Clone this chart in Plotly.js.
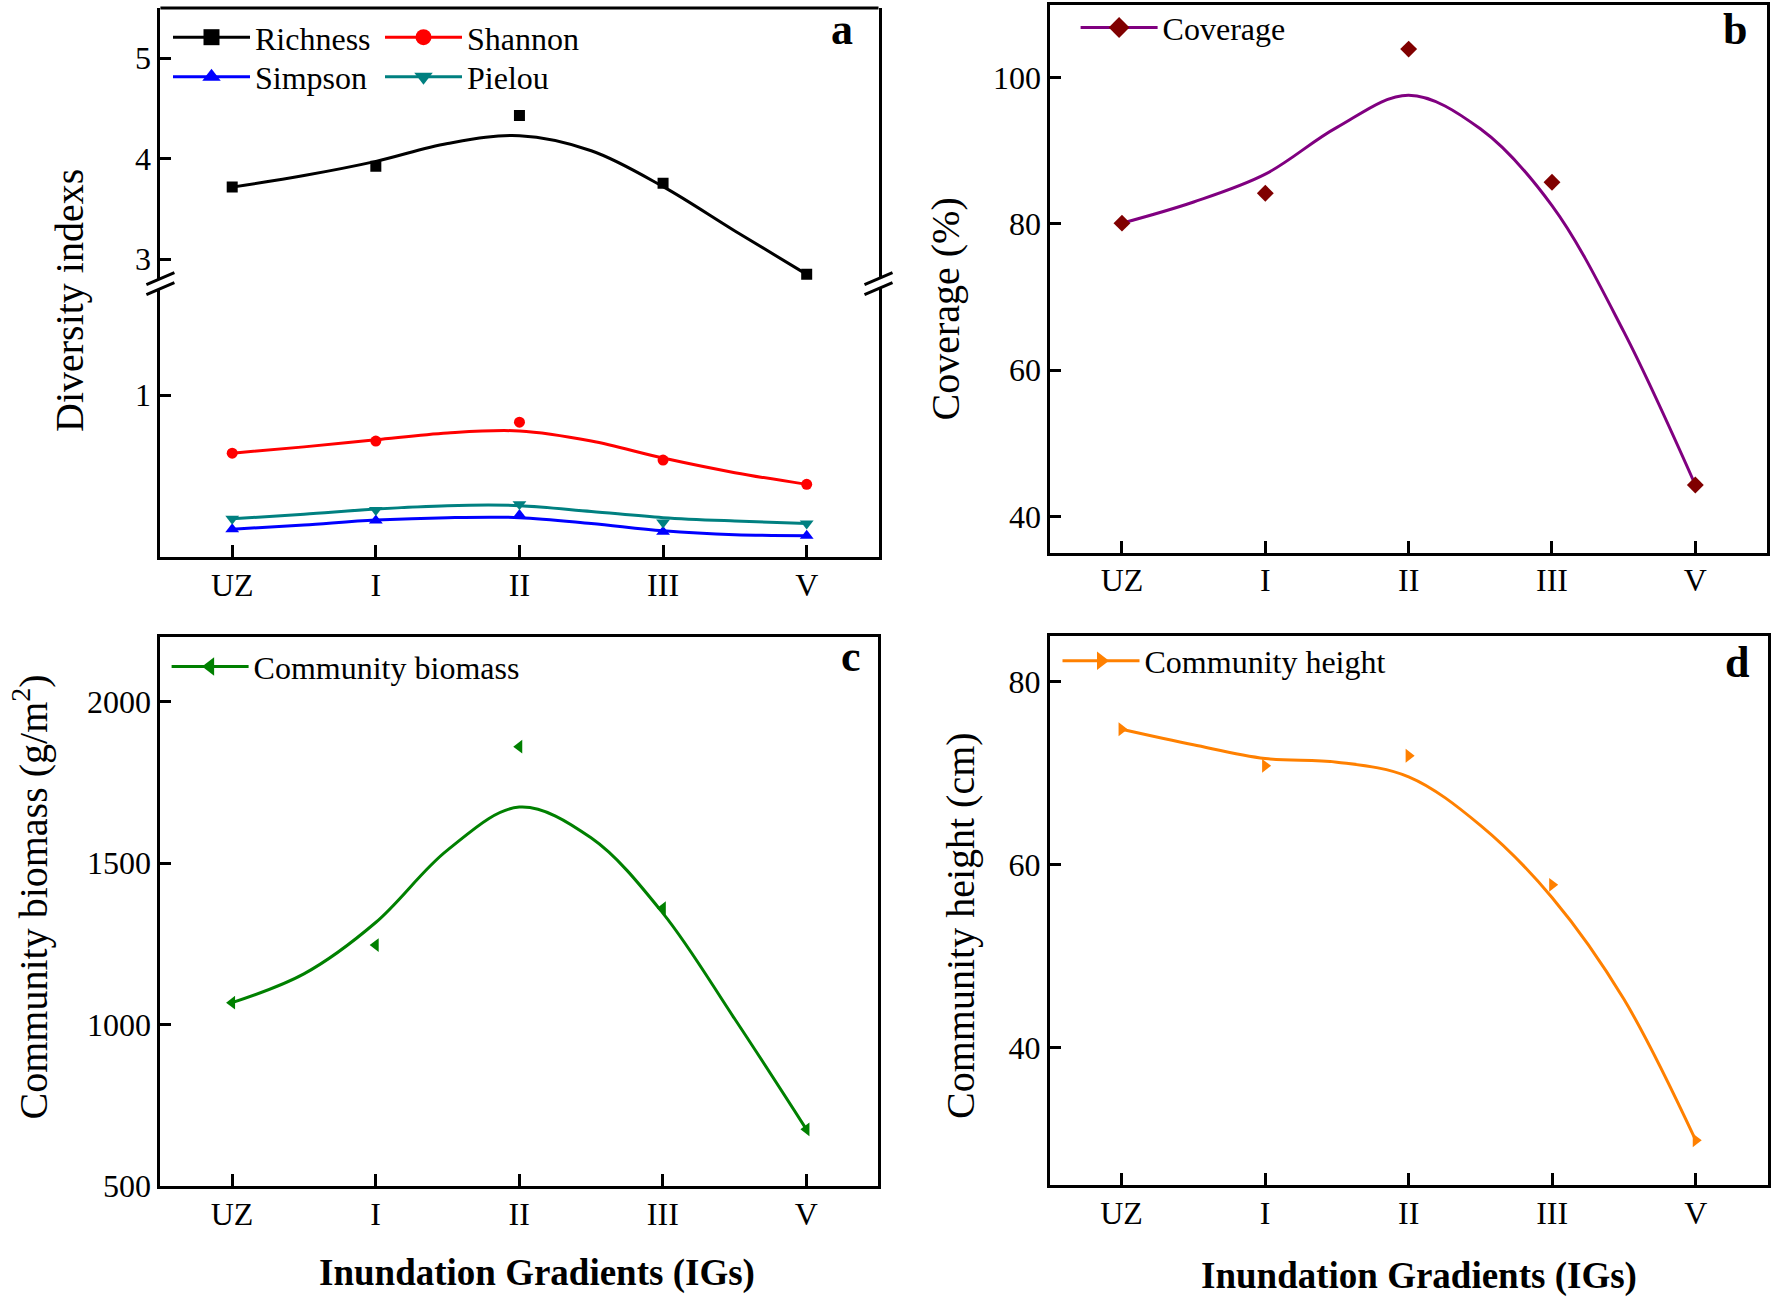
<!DOCTYPE html>
<html><head><meta charset="utf-8">
<script src="https://cdn.plot.ly/plotly-3.0.1.min.js"></script>
<style>html,body{margin:0;padding:0;background:#fff;} #chart{width:1772px;height:1299px;}</style>
</head><body><div id="chart"></div>
<script>
// ---------------- data ----------------
const categories = ['UZ', 'I', 'II', 'III', 'V'];
const catPos = [0, 1, 2, 3, 4];
// sample positions of the fitted smooth curves (category units)
const curveX = [0, 0.5, 1, 1.5, 2, 2.5, 3, 3.5, 4];

const richness      = [3.718, 3.925, 4.431, 3.757, 2.85];
const richnessCurve = [3.718, 3.833, 3.974, 4.152, 4.229, 4.080, 3.723, 3.282, 2.85];
const shannon       = [0.642, 0.717, 0.833, 0.600, 0.450];
const shannonCurve  = [0.642, 0.681, 0.725, 0.767, 0.779, 0.717, 0.612, 0.522, 0.450];
const simpson       = [0.173, 0.227, 0.262, 0.158, 0.134];
const simpsonCurve  = [0.173, 0.200, 0.230, 0.245, 0.245, 0.209, 0.164, 0.140, 0.134];
const pielou        = [0.238, 0.292, 0.328, 0.215, 0.209];
const pielouCurve   = [0.238, 0.266, 0.298, 0.319, 0.319, 0.283, 0.245, 0.224, 0.209];
const coverage      = [80.1, 84.2, 103.9, 85.7, 44.3];
const coverageCurve = [80.1, 83.0, 86.8, 93.2, 97.6, 93.0, 82.5, 65.3, 44.3];
const biomass       = [1068, 1246, 1860, 1360, 676];
const biomassCurve  = [1068, 1157, 1316, 1540, 1673, 1578, 1345, 1018, 676];
const heightVals    = [74.8, 70.8, 71.9, 57.8, 29.9];
const heightCurve   = [74.8, 73.1, 71.6, 71.2, 69.6, 64.3, 56.4, 45.3, 29.9];

const yTicksUpper = [3, 4, 5];
const yTicksLower = [1];
const yTicksCoverage = [40, 60, 80, 100];
const yTicksBiomass = [500, 1000, 1500, 2000];
const yTicksHeight = [40, 60, 80];

// ---------------- helpers ----------------
const W = 1772, H = 1299;
const FONT = 'Liberation Serif, Times New Roman, serif';
const px = v => v / W;
const py = v => 1 - v / H;

function series(name, xa, ya, vals, curve, lineColor, markColor, symbol, size, legendId) {
  return [
    {type: 'scatter', x: curveX, y: curve, xaxis: xa, yaxis: ya, mode: 'lines',
     line: {color: lineColor, width: 3, shape: 'spline', smoothing: 1}, showlegend: false, hoverinfo: 'skip'},
    {type: 'scatter', x: catPos, y: vals, xaxis: xa, yaxis: ya, mode: 'markers',
     marker: {symbol: symbol, size: size, color: markColor}, showlegend: false, name: name},
    {type: 'scatter', x: [null], y: [null], xaxis: xa, yaxis: ya, mode: 'lines+markers', name: name,
     legend: legendId, line: {color: lineColor, width: 3}, marker: {symbol: symbol, size: 16, color: markColor},
     showlegend: true}
  ];
}

const traces = [].concat(
  series('Richness', 'x', 'y2', richness, richnessCurve, '#000000', '#000000', 'square', 11, 'legend'),
  series('Shannon', 'x', 'y', shannon, shannonCurve, '#FF0000', '#FF0000', 'circle', 11, 'legend'),
  series('Simpson', 'x', 'y', simpson, simpsonCurve, '#0000FF', '#0000FF', 'triangle-up', 12, 'legend2'),
  series('Pielou', 'x', 'y', pielou, pielouCurve, '#008080', '#008080', 'triangle-down', 12, 'legend2'),
  series('Coverage', 'x2', 'y3', coverage, coverageCurve, '#800080', '#800000', 'diamond', 13, 'legend3'),
  series('Community biomass', 'x3', 'y4', biomass, biomassCurve, '#008000', '#008000', 'triangle-left', 12, 'legend4'),
  series('Community height', 'x4', 'y5', heightVals, heightCurve, '#FF8000', '#FF8000', 'triangle-right', 12, 'legend5')
);

const tickFont = {family: FONT, size: 32, color: '#000'};
function xAxis(domain, anchor) {
  return {
    domain: domain, anchor: anchor, range: [-0.5, 4.5], tickmode: 'array', tickvals: catPos, ticktext: categories,
    ticks: 'inside', ticklen: 12, tickwidth: 3, tickcolor: '#000', showline: true, linewidth: 3, linecolor: '#000',
    mirror: anchor === 'y' ? false : true, showgrid: false, zeroline: false, tickfont: tickFont, fixedrange: true,
    ticklabelstandoff: -3
  };
}
function yAxis(domain, anchor, range, tickvals) {
  return {
    domain: domain, anchor: anchor, range: range, tickmode: 'array', tickvals: tickvals,
    ticks: 'inside', ticklen: 11, tickwidth: 3, tickcolor: '#000', showline: true, linewidth: 3, linecolor: '#000',
    mirror: true, showgrid: false, zeroline: false, tickfont: tickFont, fixedrange: true
  };
}

const legFont = {family: FONT, size: 32, color: '#000'};
function legend(x, y, entryW) {
  const l = {x: x, y: y, xref: 'paper', yref: 'paper', xanchor: 'left', yanchor: 'middle', orientation: 'h',
          itemwidth: 77, font: legFont, bgcolor: 'rgba(0,0,0,0)', borderwidth: 0,
          itemclick: false, itemdoubleclick: false};
  if (entryW) { l.entrywidth = entryW; l.entrywidthmode = 'pixels'; }
  return l;
}

const breakY = 283.6;
const aTop = 8, aBot = 557.4;

function breakMarks(xanchor) {
  const common = {xref: 'x domain', yref: 'y domain', xsizemode: 'pixel', ysizemode: 'pixel',
                  xanchor: xanchor, yanchor: 1, layer: 'above'};
  return [
    Object.assign({type: 'path', path: 'M -14,-11 L 14,1 L 14,11 L -14,-1 Z', fillcolor: '#fff', line: {width: 0}}, common),
    Object.assign({type: 'path', path: 'M -14,-11 L 14,1 M -14,-1 L 14,11', line: {color: '#000', width: 3}}, common)
  ];
}

const titleFont = {family: FONT, size: 40, color: '#000'};
function yTitle(text, x, y) {
  return {text: text, x: px(x), y: py(y), xref: 'paper', yref: 'paper', textangle: -90,
          xanchor: 'center', yanchor: 'middle', showarrow: false, font: titleFont};
}
function xTitle(text, x, y) {
  return {text: '<b>' + text + '</b>', x: px(x), y: py(y), xref: 'paper', yref: 'paper',
          xanchor: 'center', yanchor: 'middle', showarrow: false, font: {family: FONT, size: 37, color: '#000'}};
}
function letter(text, xr, yc) {
  return {text: '<b>' + text + '</b>', x: px(xr), y: py(yc), xref: 'paper', yref: 'paper',
          xanchor: 'right', yanchor: 'middle', showarrow: false, font: {family: FONT, size: 44, color: '#000'}};
}

const layout = {
  width: W, height: H, margin: {l: 0, r: 0, t: 0, b: 0}, paper_bgcolor: '#fff', plot_bgcolor: '#fff',
  showlegend: true, hovermode: false, font: {family: FONT, color: '#000'},
  xaxis: xAxis([px(160.4), px(878.5)], 'y'),
  yaxis: yAxis([py(aBot), py(breakY)], 'x', [0, (aBot - breakY) / 162.3], yTicksLower),
  yaxis2: yAxis([py(breakY), py(aTop)], 'x', [2.758, 5.5], yTicksUpper),
  xaxis2: xAxis([px(1050.3), px(1767)], 'y3'),
  yaxis3: yAxis([py(553), py(4.5)], 'x2', [35, 110], yTicksCoverage),
  xaxis3: xAxis([px(160.3), px(878.2)], 'y4'),
  yaxis4: yAxis([py(1186.2), py(636.8)], 'x3', [500, 2200], yTicksBiomass),
  xaxis4: xAxis([px(1049.8), px(1767.5)], 'y5'),
  yaxis5: yAxis([py(1185.2), py(635.8)], 'x4', [25, 85], yTicksHeight),
  legend: legend(px(168), py(37.4), 120),
  legend2: legend(px(168), py(77), 120),
  legend3: legend(px(1075.6), py(27.7), 0),
  legend4: legend(px(166.6), py(666.8), 0),
  legend5: legend(px(1057.5), py(661), 0),
  shapes: [
    {type: 'line', xref: 'x domain', x0: 0, x1: 1, yref: 'paper', y0: py(aTop), y1: py(aTop), line: {color: '#000', width: 3}}
  ].concat(breakMarks(0), breakMarks(1)),
  annotations: [
    yTitle('Diversity indexs', 69, 301),
    yTitle('Coverage (%)', 945.5, 309),
    yTitle('Community biomass (g/m<sup>2</sup>)', 31, 897.5),
    yTitle('Community height (cm)', 960.5, 925.5),
    xTitle('Inundation Gradients (IGs)', 537, 1272.5),
    xTitle('Inundation Gradients (IGs)', 1419, 1276),
    letter('a', 855, 29.5),
    letter('b', 1748.6, 29.5),
    letter('c', 862.7, 656.3),
    letter('d', 1751, 662.6)
  ]
};

Plotly.newPlot('chart', traces, layout, {displayModeBar: false, staticPlot: true});
</script>
</body></html>
